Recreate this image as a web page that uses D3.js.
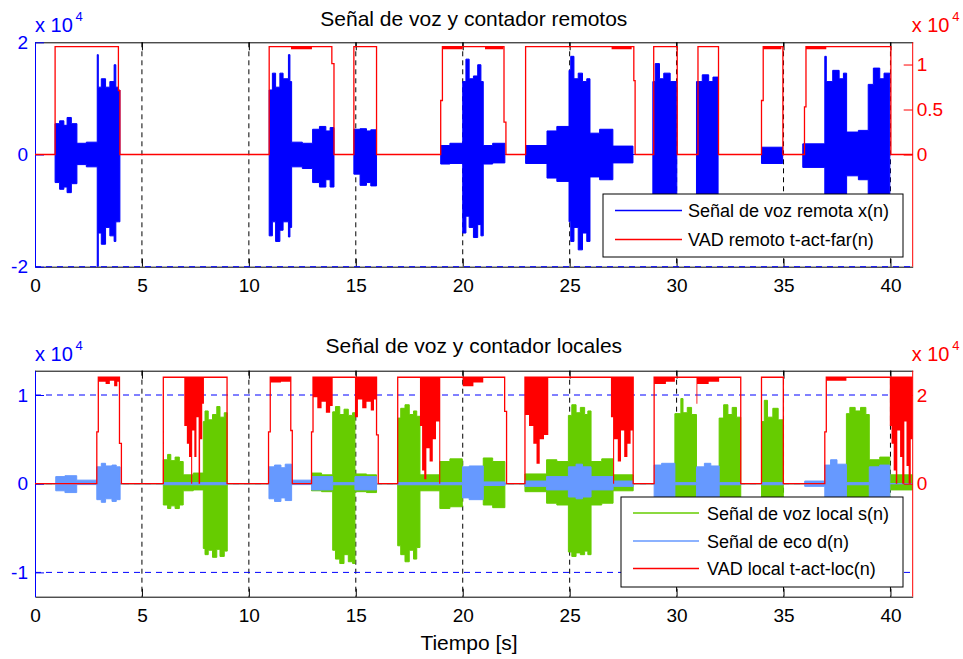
<!DOCTYPE html>
<html>
<head>
<meta charset="utf-8">
<script src="https://cdn.jsdelivr.net/npm/d3@7"></script>
<style>
body { margin: 0; background: #fff; }
svg { display: block; }
text { font-family: "Liberation Sans", Arial, sans-serif; }
</style>
</head>
<body>
<div id="chart"></div>
<script>
// time axis (s)
var xTicks = [0, 5, 10, 15, 20, 25, 30, 35, 40];
var xMax = 41.04;

// tick labels (values in units of 1e4)
var farLeftTicks = [-2, 0, 2];
var farRightTicks = [0, 0.5, 1];
var nearLeftTicks = [-1, 0, 1];
var nearRightTicks = [0, 2];

// remote speech x(n): envelope [t, max, min], holds until next point (x 1e4)
var farSpeech = [
    [0, 0, 0],
    [0.94, 0.55, -0.5], [1.15, 0.6, -0.62], [1.35, 0.52, -0.58], [1.5, 0.66, -0.68], [1.7, 0.55, -0.52],
    [1.96, 0.2, -0.18], [2.4, 0.22, -0.22],
    [2.91, 1.78, -2.0], [2.96, 1.2, -1.4], [3.1, 1.35, -1.6], [3.3, 1.2, -1.3], [3.5, 1.3, -1.45], [3.7, 1.6, -1.55], [3.78, 1.2, -1.2], [3.9, 1.15, -1.2],
    [3.97, 0, 0],
    [10.95, 1.15, -1.45], [11.1, 1.45, -1.2], [11.25, 1.2, -1.55], [11.45, 1.45, -1.35], [11.6, 1.35, -1.2], [11.85, 1.78, -1.47], [11.92, 1.3, -1.3],
    [12.0, 0.22, -0.22], [12.5, 0.2, -0.25],
    [12.98, 0.45, -0.5], [13.3, 0.5, -0.58], [13.6, 0.42, -0.45], [13.8, 0.48, -0.58],
    [13.98, 0, 0],
    [14.91, 0.45, -0.35], [15.2, 0.46, -0.55], [15.5, 0.42, -0.5], [15.7, 0.44, -0.56],
    [15.97, 0, 0],
    [18.97, 0.16, -0.17], [19.4, 0.2, -0.16],
    [20.0, 1.3, -1.4], [20.15, 1.7, -1.1], [20.3, 1.35, -1.3], [20.5, 1.4, -1.48], [20.7, 1.6, -1.25], [20.85, 1.3, -1.45],
    [20.96, 0.16, -0.17], [21.4, 0.2, -0.15],
    [21.97, 0, 0],
    [22.94, 0.16, -0.16],
    [23.94, 0.42, -0.42], [24.4, 0.5, -0.48],
    [24.97, 1.5, -1.2], [25.05, 1.75, -1.55], [25.2, 1.35, -1.3], [25.4, 1.45, -1.7], [25.6, 1.3, -1.4], [25.8, 1.35, -1.55],
    [25.95, 0.38, -0.4], [26.4, 0.45, -0.45],
    [27.02, 0.15, -0.15],
    [27.96, 0, 0],
    [28.89, 1.3, -1.4], [29.0, 1.62, -1.4], [29.2, 1.35, -1.4], [29.4, 1.45, -1.4], [29.7, 1.3, -1.4],
    [30.01, 0, 0],
    [30.93, 1.3, -1.4], [31.2, 1.42, -1.4], [31.5, 1.3, -1.4], [31.7, 1.38, -1.4],
    [31.94, 0, 0],
    [33.97, 0.13, -0.16],
    [34.96, 0, 0],
    [35.9, 0.19, -0.23],
    [36.93, 1.75, -1.4], [37.0, 1.3, -1.4], [37.3, 1.5, -1.4], [37.6, 1.35, -1.4], [37.8, 1.45, -1.4],
    [37.95, 0.4, -0.38], [38.5, 0.43, -0.45],
    [38.96, 1.25, -1.4], [39.2, 1.54, -1.4], [39.5, 1.35, -1.4], [39.7, 1.45, -1.4],
    [39.97, 0, 0],
    [41.04, 0, 0]
];

// remote VAD counter t-act-far(n): steps [t, value] (x 1e4)
var farVad = [
    [0, 0], [0.94, 1.2], [3.9, 0.71], [3.97, 0], [10.95, 1.2], [13.88, 1.01], [13.98, 0],
    [14.91, 1.2], [15.97, 0], [18.97, 0.6], [19.05, 1.2], [21.93, 0.36], [22.02, 0],
    [22.94, 1.2], [28.0, 0.82], [28.06, 0], [28.93, 1.2], [30.03, 0], [31.0, 1.2], [31.96, 0],
    [33.97, 0.6], [34.05, 1.2], [34.97, 0], [35.98, 0.53], [36.05, 1.2], [40.02, 0], [41.04, 0]
];
// remote VAD jitter below its ceiling: [t, lowest value]
var farVadJitter = [
    [0, 1.2], [11.97, 1.17], [12.95, 1.2], [19.05, 1.17], [20.0, 1.2], [21.04, 1.17], [21.9, 1.2],
    [26.96, 1.17], [27.9, 1.2], [34.05, 1.17], [34.9, 1.2], [36.05, 1.17], [37.0, 1.2], [41.04, 1.2]
];
var farVadTop = 1.2;

// local speech s(n): envelope [t, max, min] (x 1e4)
var nearSpeech = [
    [0, 0, 0],
    [6.0, 0.27, -0.24], [6.2, 0.33, -0.28], [6.35, 0.26, -0.25], [6.55, 0.3, -0.28], [6.75, 0.25, -0.24],
    [6.93, 0.1, -0.08], [7.4, 0.12, -0.07],
    [7.87, 0.7, -0.73], [7.95, 0.82, -0.8], [8.1, 0.72, -0.75], [8.3, 0.78, -0.83], [8.5, 0.87, -0.74], [8.65, 0.75, -0.82], [8.85, 0.8, -0.76],
    [8.99, 0, 0],
    [12.93, 0.12, -0.08], [13.4, 0.1, -0.09],
    [13.92, 0.81, -0.75], [14.05, 0.87, -0.85], [14.25, 0.78, -0.9], [14.45, 0.84, -0.8], [14.65, 0.77, -0.88], [14.85, 0.8, -0.9],
    [14.96, 0.11, -0.09], [15.5, 0.1, -0.1],
    [15.97, 0, 0],
    [16.96, 0.74, -0.7], [17.1, 0.85, -0.8], [17.3, 0.89, -0.88], [17.5, 0.78, -0.75], [17.7, 0.82, -0.85], [17.85, 0.76, -0.72],
    [18.0, 0.1, -0.08],
    [18.93, 0.25, -0.28], [19.4, 0.28, -0.26],
    [19.98, 0.1, -0.08],
    [20.96, 0.29, -0.24], [21.4, 0.25, -0.27],
    [21.97, 0, 0],
    [22.91, 0.11, -0.09],
    [23.92, 0.27, -0.22], [24.4, 0.25, -0.24],
    [24.94, 0.77, -0.77], [25.1, 0.89, -0.82], [25.3, 0.8, -0.78], [25.5, 0.86, -0.8], [25.7, 0.78, -0.76], [25.85, 0.82, -0.8],
    [26.0, 0.25, -0.24], [26.5, 0.28, -0.22],
    [27.03, 0.1, -0.08],
    [27.97, 0, 0],
    [29.92, 0.79, -0.8], [30.2, 0.96, -0.8], [30.3, 0.8, -0.8], [30.5, 0.86, -0.8], [30.7, 0.78, -0.8],
    [30.93, 0, 0],
    [31.99, 0.74, -0.8], [32.2, 0.89, -0.8], [32.4, 0.78, -0.8], [32.6, 0.86, -0.8], [32.8, 0.75, -0.8],
    [33.0, 0, 0],
    [33.97, 0.7, -0.8], [34.1, 0.94, -0.8], [34.25, 0.75, -0.8], [34.5, 0.85, -0.8], [34.75, 0.72, -0.8],
    [34.99, 0, 0],
    [37.94, 0.79, -0.8], [38.1, 0.86, -0.8], [38.35, 0.82, -0.8], [38.6, 0.86, -0.8], [38.85, 0.78, -0.8],
    [39.01, 0.27, -0.25], [39.5, 0.3, -0.25],
    [39.97, 0.1, -0.07],
    [41.04, 0.1, -0.07]
];

// echo d(n): envelope [t, max, min] (x 1e4)
var nearEcho = [
    [0, 0, 0],
    [0.97, 0.08, -0.08], [1.4, 0.09, -0.1],
    [1.95, 0.04, -0.01],
    [2.89, 0.19, -0.18], [3.1, 0.23, -0.21], [3.3, 0.2, -0.17], [3.6, 0.21, -0.2], [3.8, 0.19, -0.18],
    [3.98, 0, 0],
    [6.0, 0.012, -0.012], [8.99, 0, 0],
    [10.94, 0.19, -0.17], [11.2, 0.21, -0.2], [11.5, 0.18, -0.16], [11.7, 0.22, -0.19],
    [12.0, 0.04, -0.01],
    [12.93, 0.08, -0.07],
    [13.92, 0.012, -0.012],
    [14.96, 0.08, -0.07],
    [15.97, 0, 0],
    [16.96, 0.012, -0.012],
    [19.99, 0.19, -0.16], [20.3, 0.2, -0.18],
    [20.96, 0.02, -0.02],
    [21.97, 0, 0],
    [22.91, 0.03, -0.03],
    [23.92, 0.08, -0.07],
    [24.94, 0.19, -0.15], [25.3, 0.22, -0.17], [25.6, 0.19, -0.15],
    [26.0, 0.08, -0.07],
    [27.03, 0.03, -0.03],
    [27.97, 0, 0],
    [28.95, 0.21, -0.2], [29.3, 0.23, -0.2],
    [29.92, 0.012, -0.012],
    [30.93, 0.19, -0.2], [31.3, 0.23, -0.2], [31.6, 0.2, -0.2],
    [31.99, 0.012, -0.012],
    [33.0, 0, 0],
    [33.97, 0.012, -0.012],
    [34.99, 0, 0],
    [35.99, 0.03, -0.03],
    [36.93, 0.21, -0.2], [37.2, 0.27, -0.2], [37.5, 0.22, -0.2],
    [37.94, 0.012, -0.012],
    [39.01, 0.19, -0.2], [39.5, 0.21, -0.2],
    [39.97, 0, 0],
    [41.04, 0, 0]
];

// local VAD counter t-act-loc(n): steps [t, value] (x 1e4)
var nearVad = [
    [0, 0], [2.89, 1.17], [2.96, 2.4], [3.95, 0.91], [4.04, 0], [6.0, 2.4], [8.98, 0],
    [10.92, 1.17], [11.0, 2.4], [11.96, 1.2], [12.03, 0], [12.93, 1.17], [13.0, 2.4],
    [15.97, 1.1], [16.05, 0], [16.96, 2.4], [21.96, 1.63], [22.05, 0], [22.91, 2.4],
    [27.97, 0], [28.95, 2.4], [33.0, 0], [33.97, 2.4], [34.99, 0], [36.93, 1.17], [37.0, 2.4],
    [41.04, 2.4]
];
// local VAD fast oscillation below its ceiling: [t, lowest value]
var nearVadJitter = [
    [0, 2.4],
    [2.96, 2.3], [3.3, 2.25], [3.5, 2.32], [3.7, 2.2], [3.85, 2.3], [3.95, 2.4],
    [6.98, 1.3], [7.1, 0.9], [7.2, 0.6], [7.3, 0.0], [7.35, 1.2], [7.45, 0.6], [7.55, 1.5], [7.65, 0.0], [7.72, 1.0], [7.82, 1.8], [7.9, 2.4],
    [11.0, 2.28], [11.5, 2.3], [11.96, 2.4],
    [13.0, 1.95], [13.2, 1.7], [13.4, 1.85], [13.6, 1.6], [13.8, 1.75], [13.92, 2.4],
    [14.96, 1.5], [15.1, 1.9], [15.3, 1.7], [15.5, 1.85], [15.7, 1.65], [15.85, 1.9], [15.97, 2.4],
    [18.0, 1.3], [18.1, 0.3], [18.2, 0.1], [18.3, 0.8], [18.45, 0.5], [18.6, 1.0], [18.75, 1.4], [18.9, 0.0], [18.95, 2.4],
    [20.0, 2.2], [20.5, 2.28], [20.96, 2.4],
    [22.91, 1.55], [23.1, 1.3], [23.3, 0.9], [23.45, 0.45], [23.6, 1.0], [23.8, 1.1], [24.0, 2.4],
    [26.93, 1.5], [27.03, 0.0], [27.08, 1.0], [27.25, 0.5], [27.4, 1.2], [27.55, 0.6], [27.7, 0.9], [27.85, 1.2], [27.97, 2.4],
    [28.95, 2.25], [29.5, 2.3], [29.92, 2.4],
    [30.93, 1.8], [30.97, 2.25], [31.5, 2.3], [31.99, 2.4],
    [37.0, 2.32], [37.94, 2.4],
    [39.97, 1.3], [40.05, 0.9], [40.15, 0.3], [40.25, 0.0], [40.32, 1.2], [40.45, 0.6], [40.55, 0.0], [40.65, 1.4], [40.75, 0.4], [40.85, 0.0], [40.95, 1.0],
    [41.04, 2.4]
];
var nearVadTop = 2.4;

// svg
var svg = d3.select("#chart").append("svg").attr("width", 963).attr("height", 659);
var LEFT = 35, RIGHT = 912.7;
var xScale = d3.scaleLinear().domain([0, xMax]).range([LEFT, RIGHT]);

function drawPanel(p) {
    var yLeft = d3.scaleLinear().domain(p.leftDomain).range([p.bottom, p.top]);
    var yRight = d3.scaleLinear().domain(p.rightDomain).range([p.bottom, p.top]);

    svg.append("clipPath").attr("id", "clip" + p.id)
        .append("rect")
        .attr("x", LEFT).attr("y", p.top)
        .attr("width", RIGHT - LEFT).attr("height", p.bottom - p.top);

    var g = svg.append("g");

    // bottom box line + x axis
    var xAxis = d3.axisBottom(xScale).tickValues(xTicks).tickSizeInner(-8).tickSizeOuter(0).tickPadding(12);
    var xg = g.append("g").attr("transform", `translate(0, ${p.bottom})`).call(xAxis);
    xg.selectAll("text").attr("font-size", "19px").attr("fill", "#000")
        .attr("font-family", "Liberation Sans, Arial, sans-serif");
    xg.selectAll("line,path").attr("stroke", "#000");

    // grid (the top one would sit on the box line)
    g.selectAll(".vgrid").data(xTicks.filter(d => d > 0)).enter().append("line")
        .attr("x1", d => xScale(d)).attr("x2", d => xScale(d))
        .attr("y1", p.top).attr("y2", p.bottom)
        .attr("stroke", "#000").attr("stroke-width", 1).attr("stroke-dasharray", "5,4");
    g.selectAll(".hgrid").data(p.leftTicks.filter(d => d < p.leftDomain[1])).enter().append("line")
        .attr("x1", LEFT).attr("x2", RIGHT)
        .attr("y1", d => yLeft(d)).attr("y2", d => yLeft(d))
        .attr("stroke", "#0000ff").attr("stroke-width", 1).attr("stroke-dasharray", "6,5");

    // left axis signals
    var env = d3.area()
        .x(d => xScale(d[0]))
        .y0(d => yLeft(d[2]))
        .y1(d => yLeft(d[1]))
        .curve(d3.curveStepAfter);
    var data = g.append("g").attr("clip-path", `url(#clip${p.id})`);
    p.signals.forEach(function(s) {
        data.append("path").datum(s.values)
            .attr("d", env)
            .attr("fill", s.color)
            .attr("stroke", s.color)
            .attr("stroke-width", 1);
    });

    // top box line
    var topAxis = d3.axisTop(xScale).tickValues(xTicks).tickSizeInner(-8).tickSizeOuter(0).tickFormat("");
    g.append("g").attr("transform", `translate(0, ${p.top})`).call(topAxis)
        .selectAll("line,path").attr("stroke", "#000");

    // left axis (blue)
    var leftAxis = d3.axisLeft(yLeft).tickValues(p.leftTicks).tickSizeInner(-9).tickSizeOuter(0)
        .tickPadding(7).tickFormat(d => String(d));
    var lg = g.append("g").attr("transform", `translate(${LEFT}, 0)`).call(leftAxis);
    lg.selectAll("line,path").attr("stroke", "#0000ff");
    lg.selectAll("text").attr("font-size", "19px").attr("fill", "#0000ff")
        .attr("font-family", "Liberation Sans, Arial, sans-serif");

    // right axis data (red)
    var red = g.append("g").attr("clip-path", `url(#clip${p.id})`);
    var jitter = d3.area()
        .x(d => xScale(d[0]))
        .y0(yRight(p.vadTop))
        .y1(d => yRight(d[1]))
        .curve(d3.curveStepAfter);
    red.append("path").datum(p.vadJitter)
        .attr("d", jitter).attr("fill", "#ff0000");
    var vadLine = d3.line()
        .x(d => xScale(d[0]))
        .y(d => yRight(d[1]))
        .curve(d3.curveStepAfter);
    red.append("path").datum(p.vad)
        .attr("d", vadLine)
        .attr("fill", "none")
        .attr("stroke", "#ff0000")
        .attr("stroke-width", 1.3);

    // right axis (red)
    var rightAxis = d3.axisRight(yRight).tickValues(p.rightTicks).tickSizeInner(-9).tickSizeOuter(0)
        .tickPadding(4).tickFormat(d => String(d));
    var rg = g.append("g").attr("transform", `translate(${RIGHT}, 0)`).call(rightAxis);
    rg.select("path").attr("d", `M0,${p.top}V${p.bottom}`);
    rg.selectAll("line,path").attr("stroke", "#ff0000");
    rg.selectAll("text").attr("font-size", "19px").attr("fill", "#ff0000")
        .attr("font-family", "Liberation Sans, Arial, sans-serif");

    // x 10^4 multipliers
    [[LEFT, "#0000ff"], [RIGHT - 1, "#ff0000"]].forEach(function(m) {
        g.append("text").attr("x", m[0]).attr("y", p.top - 10)
            .attr("font-size", "20px").attr("fill", m[1]).text("x 10");
        g.append("text").attr("x", m[0] + 40.5).attr("y", p.top - 21)
            .attr("font-size", "13px").attr("fill", m[1]).text("4");
    });

    // title
    g.append("text")
        .attr("x", (LEFT + RIGHT) / 2).attr("y", p.titleY)
        .attr("text-anchor", "middle")
        .attr("font-size", "21px").attr("fill", "#000")
        .text(p.title);

    // legend
    var L = p.legend;
    g.append("rect")
        .attr("x", L.x).attr("y", L.y).attr("width", L.w).attr("height", L.h)
        .attr("fill", "#fff").attr("stroke", "#000").attr("stroke-width", 1);
    L.items.forEach(function(it, i) {
        var ly = L.rowY[i];
        g.append("line")
            .attr("x1", L.lineX[0]).attr("x2", L.lineX[1])
            .attr("y1", ly).attr("y2", ly)
            .attr("stroke", it.color).attr("stroke-width", 1.3);
        g.append("text")
            .attr("x", L.textX).attr("y", ly + 6.5)
            .attr("font-size", "18px").attr("fill", "#000")
            .text(it.label);
    });
}

drawPanel({
    id: "far",
    top: 42.3, bottom: 266.7,
    leftDomain: [-2, 2], rightDomain: [-1.247, 1.247],
    leftTicks: farLeftTicks, rightTicks: farRightTicks,
    signals: [{ values: farSpeech, color: "#0000ff" }],
    vad: farVad, vadJitter: farVadJitter, vadTop: farVadTop,
    title: "Señal de voz y contador remotos", titleY: 26,
    legend: {
        x: 603, y: 194, w: 300, h: 63,
        lineX: [615, 682], textX: 688, rowY: [210.5, 239.5],
        items: [
            { label: "Señal de voz remota x(n)", color: "#0000ff" },
            { label: "VAD remoto t-act-far(n)", color: "#ff0000" }
        ]
    }
});

drawPanel({
    id: "near",
    top: 370.7, bottom: 596.7,
    leftDomain: [-1.274, 1.274], rightDomain: [-2.548, 2.548],
    leftTicks: nearLeftTicks, rightTicks: nearRightTicks,
    signals: [
        { values: nearSpeech, color: "#66cc00" },
        { values: nearEcho, color: "#6699ff" }
    ],
    vad: nearVad, vadJitter: nearVadJitter, vadTop: nearVadTop,
    title: "Señal de voz y contador locales", titleY: 353,
    legend: {
        x: 621, y: 497, w: 282, h: 90,
        lineX: [633, 699], textX: 707, rowY: [513, 541, 568.5],
        items: [
            { label: "Señal de voz local s(n)", color: "#66cc00" },
            { label: "Señal de eco d(n)", color: "#6699ff" },
            { label: "VAD local t-act-loc(n)", color: "#ff0000" }
        ]
    }
});

// x axis label
svg.append("text")
    .attr("x", 469).attr("y", 650)
    .attr("text-anchor", "middle")
    .attr("font-size", "21px")
    .text("Tiempo [s]");
</script>
</body>
</html>
